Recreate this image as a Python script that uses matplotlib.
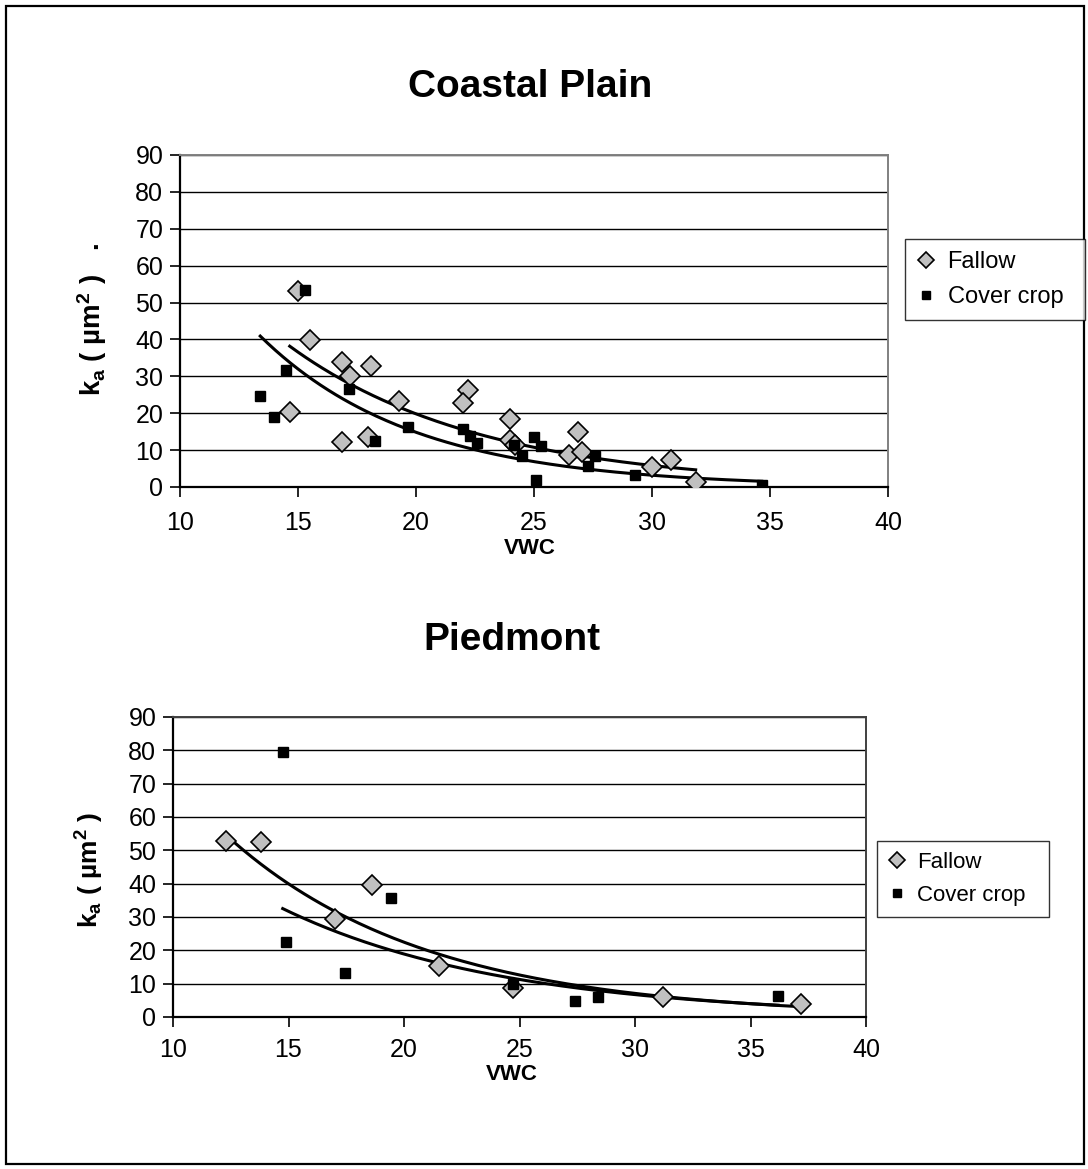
import numpy as np
import matplotlib
matplotlib.use("Agg")
import matplotlib.pyplot as plt
from matplotlib.patches import Rectangle

plt.rcParams["font.family"] = ["Liberation Sans", "DejaVu Sans"]
plt.rcParams["mathtext.default"] = "regular"

# -----------------------------
# Coastal Plain data (VWC, ka)
# -----------------------------
cp_fallow_vwc = [15.0, 15.5, 16.85, 18.1, 17.2, 19.3, 14.65, 16.85, 17.95,
                 22.2, 22.0, 24.0, 24.0, 24.2, 26.85, 26.5, 27.05, 30.0, 30.8, 31.85]
cp_fallow_ka = [53.2, 39.9, 33.8, 32.9, 30.2, 23.4, 20.3, 12.2, 13.5,
                26.4, 22.9, 18.5, 12.8, 11.5, 14.8, 8.6, 9.4, 5.4, 7.2, 1.4]

cp_cover_vwc = [15.3, 14.5, 13.4, 14.0, 17.15, 19.65, 18.25,
                22.0, 22.3, 22.6, 24.15, 24.5, 25.0, 25.3, 25.1, 27.6, 27.3, 29.3, 34.65]
cp_cover_ka = [53.5, 31.8, 24.6, 19.1, 26.6, 16.3, 12.4,
               15.8, 13.7, 11.9, 11.3, 8.3, 13.5, 11.0, 2.0, 8.5, 5.6, 3.2, 0.6]

# -----------------------------
# Piedmont data (VWC, ka)
# -----------------------------
pd_fallow_vwc = [12.3, 13.8, 18.6, 17.0, 21.5, 24.7, 31.2, 37.2]
pd_fallow_ka = [52.8, 52.6, 39.6, 29.4, 15.4, 8.8, 5.9, 3.8]

pd_cover_vwc = [14.75, 19.45, 14.9, 17.45, 24.7, 27.4, 28.4, 36.2]
pd_cover_ka = [79.6, 35.7, 22.5, 13.1, 9.8, 4.8, 5.9, 6.3]

x_ticks = [10, 15, 20, 25, 30, 35, 40]
y_ticks = [0, 10, 20, 30, 40, 50, 60, 70, 80, 90]

W, H = 1088, 1169
fig = plt.figure(figsize=(W / 100, H / 100), dpi=100)


def frac(px, py):
    return px / W, 1 - py / H


def exp_trend(x, y):
    # exponential trendline, least squares on log(y)
    b, a = np.polyfit(np.array(x), np.log(np.array(y)), 1)
    xs = np.linspace(min(x), max(x), 200)
    return xs, np.exp(a) * np.exp(b * xs)


def panel(rect, fv, fk, cv, ck, frame_col, leg_rect, leg_size, xpad):
    ax = fig.add_axes(rect)
    ax.set_xlim(10, 40)
    ax.set_ylim(0, 90)
    ax.set_xticks(x_ticks)
    ax.set_yticks(y_ticks)
    ax.yaxis.grid(True, color="black", linewidth=1.0)
    ax.set_axisbelow(True)
    for s in ["left", "bottom"]:
        ax.spines[s].set_color("black")
        ax.spines[s].set_linewidth(1.6)
    for s in ["top", "right"]:
        ax.spines[s].set_color(frame_col)
        ax.spines[s].set_linewidth(1.4)
    ax.tick_params(direction="out", length=7, width=1.2, labelsize=18)
    ax.tick_params(axis="x", pad=xpad)
    ax.tick_params(axis="y", pad=5)

    xs, ys = exp_trend(fv, fk)
    ax.plot(xs, ys, color="black", linewidth=2.2, zorder=2)
    xs, ys = exp_trend(cv, ck)
    ax.plot(xs, ys, color="black", linewidth=2.2, zorder=2)

    h1, = ax.plot(fv, fk, linestyle="none", marker="D", markersize=10.5,
                  markerfacecolor="#c0c0c0", markeredgecolor="black",
                  markeredgewidth=1.2, zorder=3, label="Fallow")
    h2, = ax.plot(cv, ck, linestyle="none", marker="s", markersize=7.5,
                  markerfacecolor="black", markeredgecolor="black",
                  zorder=4, label="Cover crop")

    l, t, r, b = leg_rect
    x0, y0 = frac(l, b)
    x1, y1 = frac(r, t)
    leg = fig.legend(handles=[h1, h2], loc="lower left",
                     bbox_to_anchor=(x0, y0, x1 - x0, y1 - y0),
                     mode="expand", fontsize=leg_size, frameon=True, fancybox=False,
                     edgecolor="black", markerscale=0.75, handlelength=0.8,
                     handletextpad=0.5, borderaxespad=0, labelspacing=0.55,
                     borderpad=0.5)
    leg.get_frame().set_linewidth(1.0)
    return ax


panel([180 / W, 1 - 487 / H, 708 / W, 332 / H],
      cp_fallow_vwc, cp_fallow_ka, cp_cover_vwc, cp_cover_ka,
      "#808080", (905, 243, 1085, 320), 17, 10)
panel([173 / W, 1 - 1017 / H, 693 / W, 300 / H],
      pd_fallow_vwc, pd_fallow_ka, pd_cover_vwc, pd_cover_ka,
      "#404040", (877, 839, 1049, 917), 16, 8)

# titles and axis labels
fig.text(*frac(530, 87), "Coastal Plain", fontsize=28, fontweight="bold",
         ha="center", va="center")
fig.text(*frac(512, 640), "Piedmont", fontsize=28, fontweight="bold",
         ha="center", va="center")
fig.text(*frac(530, 549), "VWC", fontsize=16, fontweight="bold",
         ha="center", va="center")
fig.text(*frac(512, 1074), "VWC", fontsize=16, fontweight="bold",
         ha="center", va="center")

ylab = "k$_{a}$ ( µm$^{2}$ )"
fig.text(*frac(92, 335), ylab, fontsize=20, fontweight="bold",
         rotation=90, ha="center", va="center")
fig.text(*frac(90, 245), ".", fontsize=20, fontweight="bold",
         rotation=90, ha="center", va="center")
fig.text(*frac(90, 870), ylab, fontsize=19, fontweight="bold",
         rotation=90, ha="center", va="center")

# outer frame
fig.patches.append(Rectangle((6 / W, 1 - 1164 / H), 1078 / W, 1158 / H,
                             transform=fig.transFigure, fill=False,
                             edgecolor="black", linewidth=1.6))

fig.savefig("out.png", dpi=100)
